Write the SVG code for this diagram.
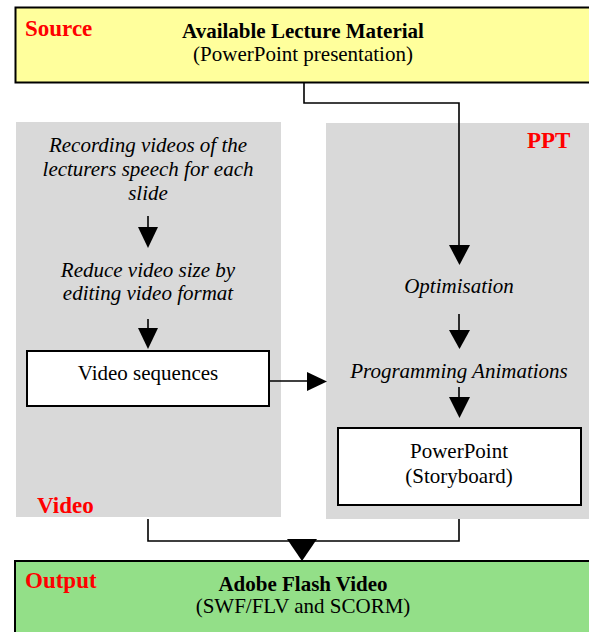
<svg xmlns="http://www.w3.org/2000/svg" width="589" height="632" viewBox="0 0 589 632">
<style>
text{font-family:"Liberation Serif","Times New Roman",serif;font-size:21px;fill:#000}
.b{font-weight:bold}
.i{font-style:italic}
.m{text-anchor:middle}
.lab{font-weight:bold;fill:#FF0000;font-size:23px}
.panel{fill:#D9D9D9}
.box{fill:#FFFFFF;stroke:#000;stroke-width:2}
.ln{fill:none;stroke:#000;stroke-width:1.6}
.ah{fill:#000}
</style>
<rect width="589" height="632" fill="#FFFFFF"/>
<g id="source">
<rect x="15.5" y="7.5" width="580" height="75" fill="#FFFF9C" stroke="#000" stroke-width="2"/>
<text x="25" y="36" class="lab">Source</text>
<text x="303" y="38" class="b m">Available Lecture Material</text>
<text x="303" y="61" class="m">(PowerPoint presentation)</text>
</g>
<g id="video">
<rect x="16" y="122" width="265" height="395" class="panel"/>
<text x="148" y="152" class="i m">Recording videos of the</text>
<text x="148" y="176" class="i m">lecturers speech for each</text>
<text x="148" y="200" class="i m">slide</text>
<text x="148" y="277" class="i m">Reduce video size by</text>
<text x="148" y="300" class="i m">editing video format</text>
<text x="37" y="513" class="lab">Video</text>
</g>
<g id="video-sequences">
<rect x="27" y="351" width="242" height="55" class="box"/>
<text x="148" y="380" class="m">Video sequences</text>
</g>
<g id="ppt">
<rect x="326" y="123" width="263" height="396" class="panel"/>
<text x="527" y="148" class="lab">PPT</text>
<text x="459" y="293" class="i m">Optimisation</text>
<text x="459" y="378" class="i m">Programming Animations</text>
</g>
<g id="powerpoint-storyboard">
<rect x="338" y="428" width="243" height="77" class="box"/>
<text x="459" y="458" class="m">PowerPoint</text>
<text x="459" y="483" class="m">(Storyboard)</text>
</g>
<g id="output">
<rect x="15" y="561" width="580" height="80" fill="#93DF88" stroke="#000" stroke-width="2"/>
<text x="25" y="588" class="lab">Output</text>
<text x="303" y="591" class="b m">Adobe Flash Video</text>
<text x="303" y="613" class="m">(SWF/FLV and SCORM)</text>
</g>
<g id="connectors">
<polyline points="304,83 304,103 459,103 459,246" class="ln"/>
<polygon points="449,245 470,245 459.5,265" class="ah"/>
<line x1="148" y1="216" x2="148" y2="229" class="ln"/>
<polygon points="138,227 158,227 148,248" class="ah"/>
<line x1="148" y1="319" x2="148" y2="330" class="ln"/>
<polygon points="138,328 158,328 148,349" class="ah"/>
<line x1="459" y1="314" x2="459" y2="332" class="ln"/>
<polygon points="449,330 470,330 459.5,349" class="ah"/>
<line x1="459" y1="387" x2="459" y2="399" class="ln"/>
<polygon points="449,397 470,397 459.5,418" class="ah"/>
<line x1="269" y1="381" x2="309" y2="381" class="ln"/>
<polygon points="307,372 307,391 327,381.5" class="ah"/>
<polyline points="148,519 148,541 459,541 459,519" class="ln"/>
<polygon points="287,539 317,539 302,561" class="ah"/>
</g>
</svg>
